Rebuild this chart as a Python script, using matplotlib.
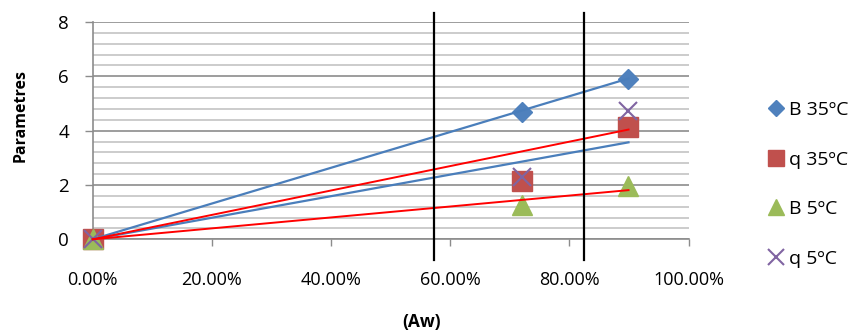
import matplotlib.pyplot as plt
import numpy as np

### Data
aw = [0.0, 0.72, 0.899]
b_35 = [0.0, 4.70, 5.92]
q_35 = [0.0, 2.13, 4.12]
b_5 = [0.0, 1.26, 1.95]
q_5 = [0.0, 2.28, 4.72]

# trend lines (from origin to last Aw value)
trend_x = [0.0, 0.899]
trend_blue = [[0.0, 5.92], [0.0, 3.57]]
trend_red = [[0.0, 4.04], [0.0, 1.81]]

# black vertical reference lines
vline_aw = [0.573, 0.824]

labels = ['B 35ºC', 'q 35ºC', 'B 5ºC', 'q 5ºC']
xtick_vals = [0.0, 0.2, 0.4, 0.6, 0.8, 1.0]
xtick_labels = ['0.00%', '20.00%', '40.00%', '60.00%', '80.00%', '100.00%']
ytick_vals = [0, 2, 4, 6, 8]

### Style
plt.rcParams['font.family'] = ['Open Sans', 'DejaVu Sans']
c_blue = '#4F81BD'
c_red = '#C0504D'
c_green = '#9BBB59'
c_purple = '#8064A2'
c_grid = '#8C8C8C'
c_minor = '#C4C4C4'

fig = plt.figure(figsize=(8.64, 3.32), dpi=100)
ax = fig.add_axes([0.1073, 0.2792, 0.6898, 0.6545])

# markers
ax.plot(aw, b_35, linestyle='none', marker='D', ms=10, color=c_blue, label=labels[0], zorder=3, clip_on=False)
ax.plot(aw, q_35, linestyle='none', marker='s', ms=14, color=c_red, label=labels[1], zorder=3, clip_on=False)
ax.plot(aw, b_5, linestyle='none', marker='^', ms=14, color=c_green, label=labels[2], zorder=3, clip_on=False)
ax.plot(aw, q_5, linestyle='none', marker='x', ms=13, mew=1.5, color=c_purple, label=labels[3], zorder=3, clip_on=False)

# trend lines on top of markers
for ys in trend_blue:
    ax.plot(trend_x, ys, color='#4A7EBB', lw=1.6, zorder=4, clip_on=False)
for ys in trend_red:
    ax.plot(trend_x, ys, color='#FF0000', lw=1.4, zorder=4, clip_on=False)

# vertical black lines that run past the plot area
for v in vline_aw:
    ax.plot([v, v], [8.33, -0.76], color='black', lw=1.6, clip_on=False, zorder=5)

ax.set_xlim(0, 1)
ax.set_ylim(0, 8)
ax.set_xticks(xtick_vals)
ax.set_xticklabels(xtick_labels)
ax.set_yticks(ytick_vals)
ax.set_yticks(np.arange(0, 8.01, 0.4), minor=True)
ax.tick_params(axis='y', which='minor', length=0)
ax.tick_params(axis='y', which='major', direction='out', length=6, width=1, color=c_grid, pad=11, labelsize=13.5)
ax.tick_params(axis='x', which='major', direction='out', length=5, width=1, color=c_grid, pad=18, labelsize=13)

ax.grid(True, axis='y', which='minor', color=c_minor, lw=1.2, zorder=0)
ax.grid(True, axis='y', which='major', color=c_grid, lw=1.2, zorder=0)
ax.set_axisbelow(True)

for side in ['top', 'right']:
    ax.spines[side].set_visible(False)
ax.spines['left'].set_color(c_grid)
ax.spines['bottom'].set_color(c_grid)
ax.spines['left'].set_linewidth(1.2)
ax.spines['bottom'].set_linewidth(1.2)

fig.text(0.0243, 0.653, 'Parametres', rotation=90, fontsize=11.5, fontweight='bold',
         ha='center', va='center')
fig.text(0.488, 0.030, '(Aw)', fontsize=12.5, fontweight='bold', ha='center', va='center')

fig.legend(loc='upper left', bbox_to_anchor=(0.889, 0.695), frameon=False, fontsize=14,
           handlelength=0.8, handletextpad=0.3, labelspacing=1.62, markerscale=0.85,
           borderaxespad=0, borderpad=0)

plt.savefig('out.png', dpi=100)
